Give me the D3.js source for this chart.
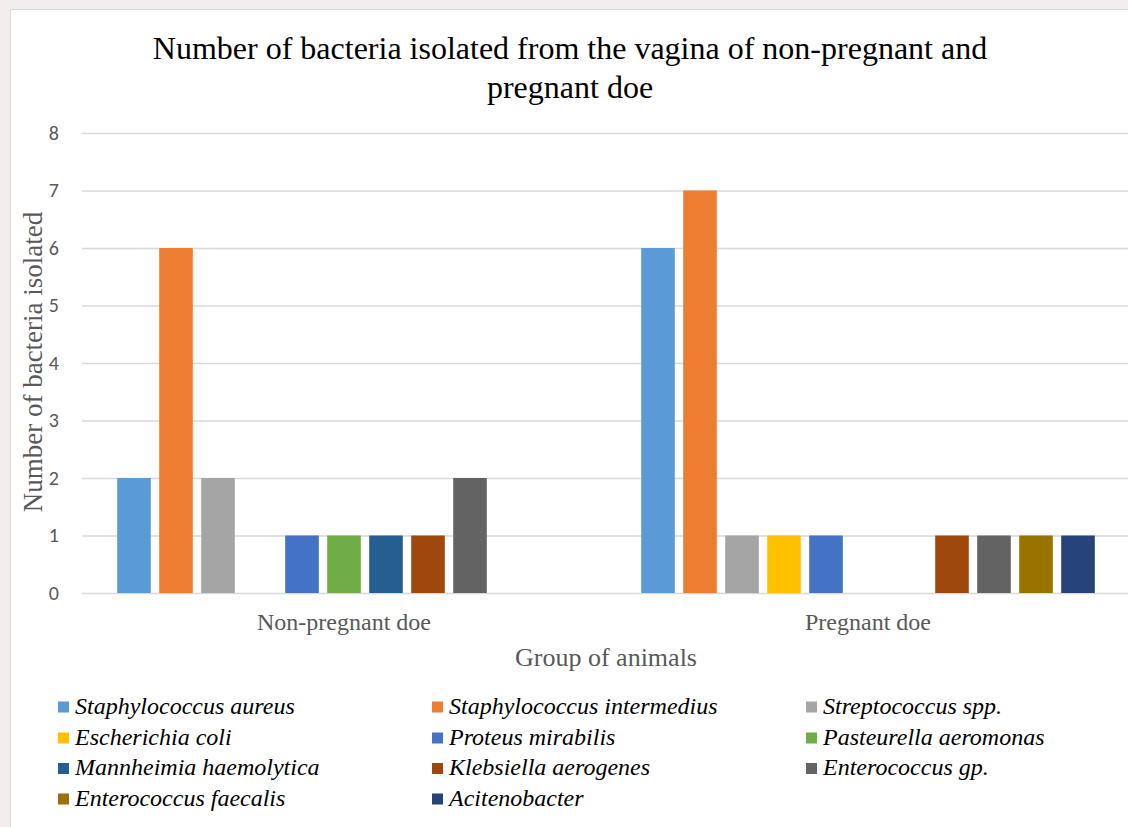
<!DOCTYPE html>
<html>
<head>
<meta charset="utf-8">
<script src="https://cdn.jsdelivr.net/npm/d3@7"></script>
</head>
<body style="margin:0; background:#f3eded">
<script>
const width = 1128;
const height = 827;
const SERIF = '"Liberation Serif"';
const SANS = '"Carlito"';

const groups = ["Non-pregnant doe", "Pregnant doe"];
const series = [
   "Staphylococcus aureus", "Staphylococcus intermedius", "Streptococcus spp.",
   "Escherichia coli", "Proteus mirabilis", "Pasteurella aeromonas",
   "Mannheimia haemolytica", "Klebsiella aerogenes", "Enterococcus gp.",
   "Enterococcus faecalis", "Acitenobacter"
];
const colors = ["#5b9bd5", "#ed7d31", "#a5a5a5", "#ffc000", "#4472c4", "#70ad47",
   "#255e91", "#9e480e", "#636363", "#997300", "#264478"];
const nonPregnant = [2, 6, 2, 0, 1, 1, 1, 1, 2, 0, 0];
const pregnant = [6, 7, 1, 1, 1, 0, 0, 1, 1, 1, 1];
const yTicks = [0, 1, 2, 3, 4, 5, 6, 7, 8];

const values = [nonPregnant, pregnant];

const svg = d3.select("body").append("svg")
   .attr("width", width)
   .attr("height", height)
   .style("display", "block");

// chart area box
svg.append("rect")
   .attr("x", 10.5).attr("y", 9.5)
   .attr("width", width).attr("height", height)
   .attr("fill", "#fff")
   .attr("stroke", "#d9d9d9");

const x0 = d3.scaleBand().domain(groups).range([82, 1130]);
const x1 = d3.scaleBand().domain(series).range([31, 493]).paddingInner(0.2).paddingOuter(0.1);
const y = d3.scaleLinear().domain([0, 8]).range([593, 133]);

// gridlines
svg.append("g").selectAll("line").data(yTicks).enter().append("line")
   .attr("x1", 82).attr("x2", width)
   .attr("y1", (d) => y(d) + 0.5).attr("y2", (d) => y(d) + 0.5)
   .attr("stroke", "#d9d9d9").attr("stroke-width", 1.3);

// y axis labels
const yAxis = d3.axisLeft(y).tickValues(yTicks).tickSize(0).tickPadding(0);
const yg = svg.append("g").attr("transform", "translate(59,0)").call(yAxis);
yg.select(".domain").remove();
yg.attr("font-family", SANS).attr("font-size", 20);
yg.selectAll("text")
   .style("font-family", SANS, "important")
   .style("font-size", "20px").attr("fill", "#595959");

// bars
const grp = svg.append("g").selectAll("g").data(groups).enter().append("g")
   .attr("transform", (d) => `translate(${x0(d)},0)`);
grp.selectAll("rect")
   .data((d, i) => series.map((s, j) => ({ s: s, v: values[i][j], c: colors[j] })))
   .enter().append("rect")
   .attr("x", (d) => x1(d.s))
   .attr("width", x1.bandwidth())
   .attr("y", (d) => y(d.v))
   .attr("height", (d) => y(0) - y(d.v))
   .attr("fill", (d) => d.c);

// x axis labels
const xAxis = d3.axisBottom(x0).tickSize(0).tickPadding(0);
const xg = svg.append("g").attr("transform", "translate(0,630)").call(xAxis);
xg.select(".domain").remove();
xg.attr("font-family", SERIF).attr("font-size", 24);
xg.selectAll("text")
   .attr("dy", 0)
   .style("font-family", SERIF, "important")
   .style("font-size", "24px").attr("fill", "#595959");

// titles
const title = svg.append("text")
   .attr("text-anchor", "middle")
   .style("font-family", SERIF, "important")
   .style("font-size", "32px").attr("fill", "#000");
title.append("tspan").attr("x", 570).attr("y", 59)
   .text("Number of bacteria isolated from the vagina of non-pregnant and");
title.append("tspan").attr("x", 570).attr("y", 98).text("pregnant doe");

svg.append("text")
   .attr("transform", "translate(42,362) rotate(-90)")
   .attr("text-anchor", "middle")
   .style("font-family", SERIF, "important")
   .style("font-size", "27px").attr("fill", "#595959")
   .text("Number of bacteria isolated");

svg.append("text")
   .attr("x", 606).attr("y", 666)
   .attr("text-anchor", "middle")
   .style("font-family", SERIF, "important")
   .style("font-size", "26px").attr("fill", "#595959")
   .text("Group of animals");

// legend
const legendX = [58, 432, 806];
const legendY = [707, 738, 768.5, 799];
const legend = svg.append("g").selectAll("g").data(series).enter().append("g")
   .attr("transform", (d, i) => `translate(${legendX[i % 3]},${legendY[Math.floor(i / 3)]})`);
legend.append("rect")
   .attr("x", 0).attr("y", -5.5).attr("width", 11).attr("height", 11)
   .attr("fill", (d, i) => colors[i]);
legend.append("text")
   .attr("x", 17).attr("y", 6.5)
   .style("font-family", SERIF, "important")
   .style("font-style", "italic")
   .style("font-size", "24px").attr("fill", "#000")
   .text((d) => d);
</script>
</body>
</html>
